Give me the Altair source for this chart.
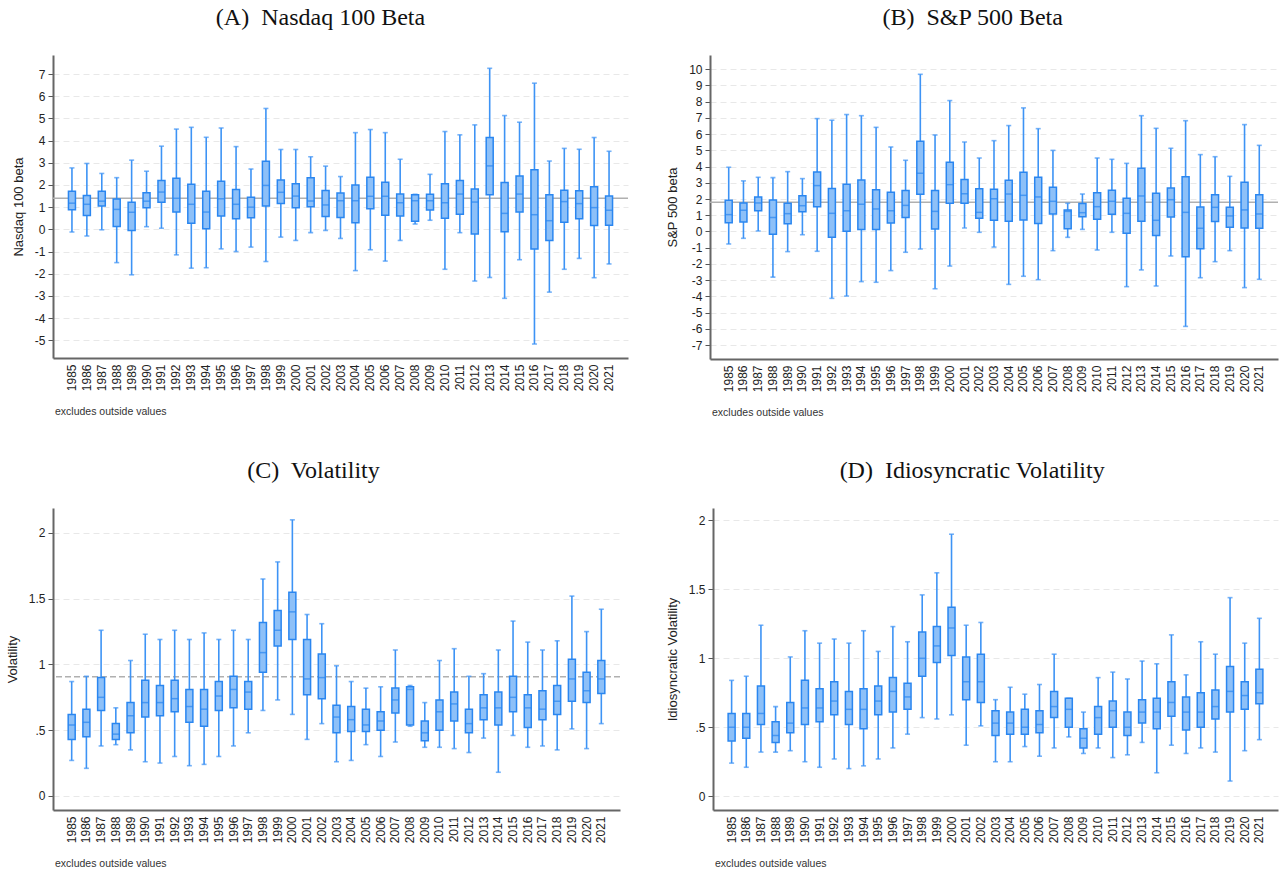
import altair as alt
import pandas as pd

years = [str(y) for y in range(1985, 2022)]

# Panel A: Nasdaq 100 beta
a_high = [2.77, 2.97, 2.52, 2.33, 3.12, 2.62, 3.75, 4.52, 4.60, 4.15, 4.57, 3.73, 2.72, 5.45, 3.60, 3.60, 3.27, 2.85, 2.38, 4.36, 4.50, 4.36, 3.16, 1.58, 2.48, 4.41, 4.26, 4.71, 7.26, 5.13, 4.83, 6.59, 3.08, 3.65, 3.61, 4.14, 3.52]
a_q3 = [1.72, 1.53, 1.72, 1.37, 1.22, 1.65, 2.20, 2.30, 2.03, 1.72, 2.17, 1.80, 1.45, 3.07, 2.23, 2.05, 2.33, 1.75, 1.64, 2.00, 2.35, 2.12, 1.59, 1.56, 1.58, 2.05, 2.20, 1.82, 4.14, 2.11, 2.41, 2.69, 1.56, 1.76, 1.74, 1.92, 1.50]
a_med = [1.18, 1.13, 1.27, 0.90, 0.77, 1.27, 1.68, 1.40, 1.13, 0.78, 1.38, 1.13, 1.00, 1.98, 1.67, 1.50, 1.28, 1.10, 1.29, 1.29, 1.49, 1.49, 1.20, 1.29, 1.29, 1.20, 1.59, 1.23, 2.86, 0.72, 1.59, 0.66, 0.39, 1.25, 1.16, 0.98, 0.86]
a_q1 = [0.88, 0.62, 1.05, 0.13, -0.05, 0.97, 1.22, 0.78, 0.27, 0.03, 0.60, 0.48, 0.52, 1.05, 1.17, 0.97, 1.02, 0.58, 0.53, 0.30, 0.93, 0.63, 0.60, 0.36, 0.87, 0.50, 0.68, -0.21, 1.56, -0.11, 0.78, -0.89, -0.50, 0.32, 0.48, 0.17, 0.18]
a_low = [-0.12, -0.30, -0.02, -1.50, -2.05, 0.12, 0.05, -1.15, -1.75, -1.73, -0.88, -1.00, -0.80, -1.45, -0.35, -0.50, -0.15, -0.05, -0.41, -1.86, -0.92, -1.43, -0.50, 0.24, 0.41, -1.80, -0.15, -2.33, -2.17, -3.11, -1.37, -5.17, -2.83, -1.80, -1.31, -2.18, -1.56]
a_mean = 1.40

# Panel B: S&P 500 beta
b_high = [3.96, 3.12, 3.34, 3.32, 3.69, 3.26, 6.96, 6.86, 7.21, 7.14, 6.42, 5.21, 4.39, 9.69, 5.95, 8.07, 5.52, 4.53, 5.60, 6.53, 7.62, 6.34, 5.00, 1.74, 2.31, 4.53, 4.45, 4.20, 7.14, 6.36, 5.13, 6.83, 4.74, 4.61, 3.40, 6.59, 5.31]
b_q3 = [1.92, 1.76, 2.13, 1.94, 1.74, 2.21, 3.67, 2.65, 2.91, 3.18, 2.58, 2.42, 2.52, 5.56, 2.52, 4.27, 3.20, 2.64, 2.60, 3.16, 3.65, 3.34, 2.72, 1.33, 1.72, 2.39, 2.54, 2.05, 3.90, 2.35, 2.68, 3.38, 1.51, 2.27, 1.49, 3.03, 2.27]
b_med = [1.04, 1.31, 1.76, 0.87, 1.10, 1.59, 2.83, 1.12, 1.28, 1.68, 1.39, 1.28, 1.61, 3.59, 1.24, 2.89, 2.33, 1.18, 2.02, 2.31, 2.23, 2.13, 1.86, 1.24, 1.16, 1.53, 1.86, 1.12, 2.19, 0.69, 1.96, 1.18, 0.20, 1.49, 0.96, 1.33, 1.08]
b_q1 = [0.54, 0.59, 1.28, -0.17, 0.48, 1.22, 1.53, -0.36, 0.01, 0.13, 0.13, 0.52, 0.87, 2.29, 0.15, 1.74, 1.74, 0.81, 0.69, 0.63, 0.71, 0.50, 1.08, 0.17, 0.91, 0.75, 1.06, -0.11, 0.63, -0.24, 0.89, -1.55, -1.06, 0.61, 0.26, 0.22, 0.20]
b_low = [-0.77, -0.42, 0.03, -2.81, -1.24, -0.20, -1.22, -4.12, -3.98, -3.09, -3.13, -2.41, -1.28, -1.08, -3.53, -2.13, 0.22, -0.05, -0.96, -3.26, -2.76, -2.97, -1.18, -0.36, 0.13, -1.14, -0.05, -3.40, -2.37, -3.36, -1.51, -5.85, -2.85, -1.86, -1.18, -3.46, -2.95]
b_mean = 1.80

# Panel C: Volatility
c_high = [0.87, 0.91, 1.26, 0.67, 1.03, 1.23, 1.19, 1.26, 1.19, 1.24, 1.19, 1.26, 1.19, 1.65, 1.78, 2.10, 1.38, 1.31, 0.99, 0.87, 0.82, 0.83, 1.11, 0.84, 0.71, 1.03, 1.12, 0.91, 0.93, 1.11, 1.33, 1.17, 1.11, 1.18, 1.52, 1.25, 1.42]
c_q3 = [0.62, 0.66, 0.90, 0.55, 0.71, 0.88, 0.84, 0.88, 0.81, 0.81, 0.87, 0.91, 0.87, 1.32, 1.41, 1.55, 1.19, 1.08, 0.69, 0.68, 0.66, 0.64, 0.82, 0.83, 0.57, 0.73, 0.79, 0.66, 0.77, 0.79, 0.91, 0.77, 0.80, 0.84, 1.04, 0.94, 1.03]
c_med = [0.54, 0.56, 0.75, 0.47, 0.61, 0.71, 0.71, 0.74, 0.68, 0.66, 0.76, 0.81, 0.79, 1.09, 1.26, 1.40, 0.89, 0.90, 0.60, 0.58, 0.54, 0.57, 0.73, 0.81, 0.48, 0.64, 0.70, 0.55, 0.67, 0.67, 0.75, 0.67, 0.66, 0.72, 0.89, 0.80, 0.89]
c_q1 = [0.43, 0.45, 0.65, 0.43, 0.48, 0.60, 0.61, 0.64, 0.56, 0.53, 0.65, 0.67, 0.66, 0.94, 1.14, 1.19, 0.77, 0.74, 0.48, 0.49, 0.49, 0.50, 0.63, 0.54, 0.42, 0.50, 0.57, 0.48, 0.58, 0.54, 0.64, 0.52, 0.58, 0.62, 0.72, 0.71, 0.78]
c_low = [0.27, 0.21, 0.38, 0.39, 0.35, 0.26, 0.25, 0.30, 0.23, 0.24, 0.30, 0.38, 0.48, 0.65, 0.73, 0.62, 0.43, 0.55, 0.26, 0.27, 0.39, 0.30, 0.41, 0.53, 0.37, 0.37, 0.36, 0.33, 0.44, 0.18, 0.46, 0.37, 0.38, 0.35, 0.51, 0.36, 0.55]
c_mean = 0.906

# Panel D: Idiosyncratic volatility
d_high = [0.84, 0.87, 1.24, 0.65, 1.01, 1.20, 1.11, 1.14, 1.11, 1.20, 1.05, 1.23, 1.12, 1.46, 1.62, 1.90, 1.24, 1.26, 0.70, 0.79, 0.74, 0.81, 1.03, 0.71, 0.61, 0.86, 0.90, 0.85, 0.98, 0.96, 1.17, 0.88, 1.12, 1.03, 1.44, 1.11, 1.29]
d_q3 = [0.60, 0.60, 0.80, 0.54, 0.68, 0.84, 0.78, 0.83, 0.76, 0.78, 0.80, 0.86, 0.82, 1.19, 1.23, 1.37, 1.01, 1.03, 0.62, 0.61, 0.63, 0.62, 0.76, 0.71, 0.49, 0.65, 0.69, 0.61, 0.70, 0.71, 0.83, 0.72, 0.75, 0.77, 0.94, 0.83, 0.92]
d_med = [0.50, 0.50, 0.60, 0.44, 0.53, 0.64, 0.64, 0.69, 0.63, 0.63, 0.69, 0.76, 0.72, 1.00, 1.09, 1.22, 0.83, 0.83, 0.53, 0.53, 0.50, 0.52, 0.65, 0.63, 0.42, 0.57, 0.62, 0.50, 0.61, 0.61, 0.68, 0.61, 0.61, 0.65, 0.76, 0.73, 0.75]
d_q1 = [0.40, 0.42, 0.52, 0.39, 0.46, 0.52, 0.54, 0.59, 0.52, 0.49, 0.59, 0.61, 0.63, 0.87, 0.97, 1.02, 0.70, 0.68, 0.44, 0.45, 0.45, 0.46, 0.57, 0.50, 0.35, 0.45, 0.50, 0.44, 0.53, 0.49, 0.58, 0.48, 0.50, 0.56, 0.61, 0.63, 0.67]
d_low = [0.24, 0.21, 0.32, 0.32, 0.33, 0.25, 0.21, 0.27, 0.20, 0.22, 0.27, 0.35, 0.45, 0.57, 0.56, 0.59, 0.37, 0.51, 0.25, 0.25, 0.36, 0.29, 0.35, 0.43, 0.31, 0.35, 0.28, 0.30, 0.39, 0.17, 0.37, 0.31, 0.35, 0.32, 0.11, 0.33, 0.41]

WHISK = "#3d93f5"
FILL = "#8dc0f8"
STROKE = "#2a86f0"
SANS = "Liberation Sans"
NOTE = "excludes outside values"
NUM_EXPR = "toString(datum.value)"
FRAC_EXPR = "datum.value == 0.5 ? '.5' : toString(datum.value)"


def panel(title, ytitle, low, q1, med, q3, high, domain, ticks, width, height,
          mean=None, mean_dash=None, label_expr=NUM_EXPR):
    df = pd.DataFrame({"year": years, "low": low, "q1": q1, "med": med,
                       "q3": q3, "high": high})
    base = alt.Chart(df)
    x = alt.X("year:O", sort=years, title=None,
              scale=alt.Scale(paddingInner=0, paddingOuter=0.77),
              axis=alt.Axis(labelAngle=-90, labelAlign="right", labelBaseline="middle",
                            ticks=False, labelPadding=6, grid=False,
                            labelFont=SANS, labelFontSize=12, labelColor="#222",
                            domainColor="#666", domainWidth=2))
    yscale = alt.Scale(domain=domain, nice=False, zero=False)
    yaxis = alt.Axis(values=ticks, grid=True, gridColor="#e8e8e8", gridDash=[6, 4],
                     gridWidth=1, tickSize=5, tickColor="#555", labelPadding=3,
                     labelFont=SANS, labelFontSize=12, labelColor="#222",
                     labelExpr=label_expr,
                     titleFont=SANS, titleFontSize=13, titleFontWeight="normal",
                     titleColor="#222", titlePadding=9, domainColor="#666", domainWidth=2)

    def Y(field):
        return alt.Y(field + ":Q", scale=yscale, axis=yaxis, title=ytitle)

    layers = []
    if mean is not None:
        mdf = pd.DataFrame({"m": [mean]})
        mk = dict(color="#b0b0b0", strokeWidth=1.4)
        if mean_dash:
            mk["strokeDash"] = mean_dash
        layers.append(alt.Chart(mdf).mark_rule(**mk).encode(y=Y("m")))
    whisk = base.mark_rule(color=WHISK, strokeWidth=1.6).encode(x=x, y=Y("low"), y2="high:Q")
    cap_hi = base.mark_tick(color=WHISK, size=5, thickness=1.6).encode(x=x, y=Y("high"))
    cap_lo = base.mark_tick(color=WHISK, size=5, thickness=1.6).encode(x=x, y=Y("low"))
    box = base.mark_bar(size=7, fill=FILL, stroke=STROKE, strokeWidth=1.5).encode(
        x=x, y=Y("q1"), y2="q3:Q")
    medl = base.mark_tick(color=STROKE, size=7, thickness=1.5).encode(x=x, y=Y("med"))
    note = alt.Chart(pd.DataFrame({"t": [NOTE]})).mark_text(
        align="left", baseline="middle", font=SANS, fontSize=10.5, color="#333").encode(
        x=alt.value(2), y=alt.value(height + 54), text="t:N")
    layers += [whisk, cap_hi, cap_lo, box, medl, note]
    return alt.layer(*layers).properties(
        width=width, height=height,
        view=alt.ViewBackground(stroke="transparent", strokeWidth=0),
        title=alt.TitleParams(title, font="Liberation Serif", fontSize=24,
                              fontWeight="normal", color="#111", anchor="middle",
                              frame="bounds", offset=25))


pa = panel("(A)\u00a0 Nasdaq 100 Beta", "Nasdaq 100 beta", a_low, a_q1, a_med, a_q3, a_high,
           [-5.8, 7.86], list(range(-5, 8)), 575, 303, mean=a_mean)
pb = panel("(B)\u00a0 S&P 500 Beta", "S&P 500 beta", b_low, b_q1, b_med, b_q3, b_high,
           [-7.86, 10.88], list(range(-7, 11)), 568, 304, mean=b_mean)
pc = panel("(C)\u00a0 Volatility", "Volatility", c_low, c_q1, c_med, c_q3, c_high,
           [-0.107, 2.19], [0, 0.5, 1, 1.5, 2], 567, 302, mean=c_mean, mean_dash=[6, 3],
           label_expr=FRAC_EXPR)
pd_ = panel("(D)\u00a0 Idiosyncratic Volatility", "Idiosyncratic Volatility", d_low, d_q1,
            d_med, d_q3, d_high, [-0.10, 2.09], [0, 0.5, 1, 1.5, 2], 565, 302,
            label_expr=FRAC_EXPR)

row1 = alt.hconcat(pa, pb, spacing=37)
row2 = alt.hconcat(pc, pd_, spacing=45)
chart = alt.vconcat(row1, row2, spacing=40).properties(
    padding={"left": 6, "top": 6, "right": 2, "bottom": 2}
).configure(background="white").configure_view(strokeWidth=0, stroke="transparent")

chart.save("out.html", embed_options={"renderer": "svg", "actions": False})
